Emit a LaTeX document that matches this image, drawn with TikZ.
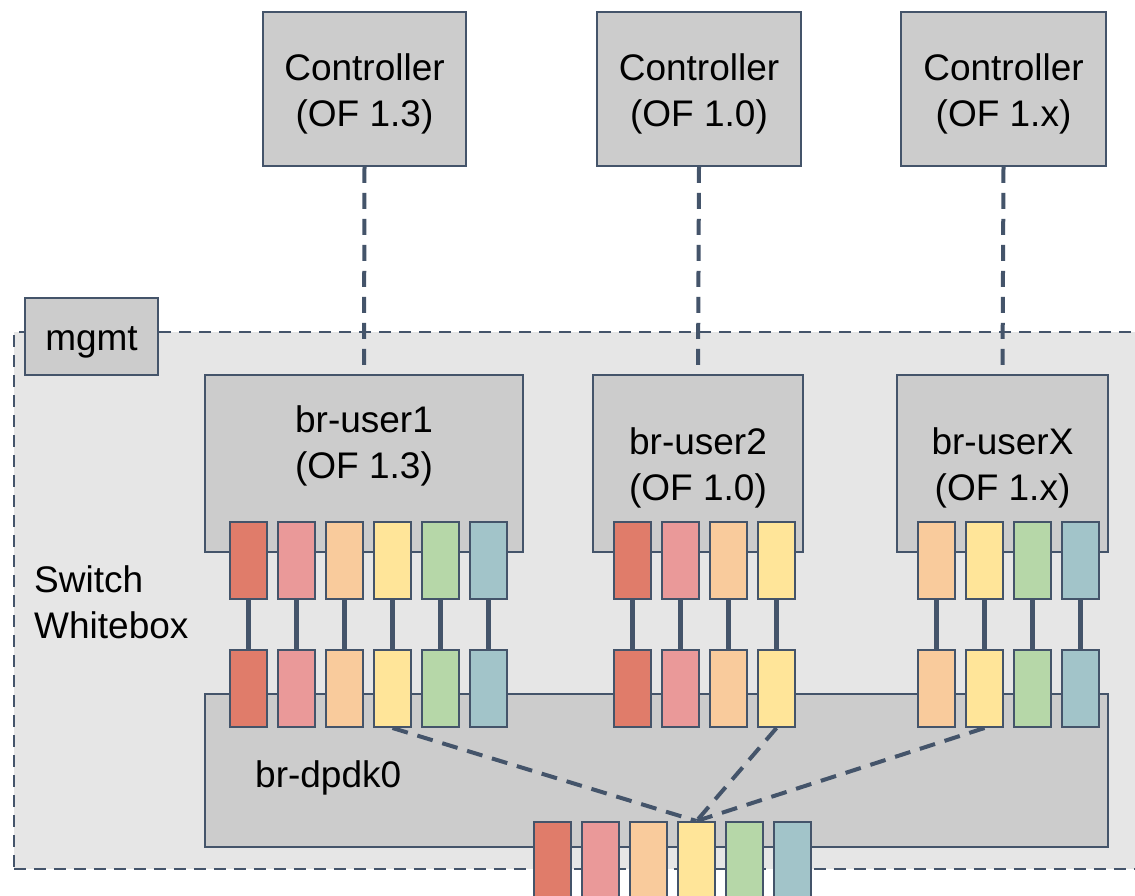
\documentclass[tikz,border=0pt]{standalone}
\usepackage{fontspec}
\setmainfont{Liberation Sans}
\definecolor{edge}{HTML}{44546A}
\definecolor{boxgray}{HTML}{CCCCCC}
\definecolor{mgmtbg}{HTML}{E6E6E6}
\definecolor{pred}{HTML}{E07C6A}
\definecolor{ppink}{HTML}{EA9999}
\definecolor{porange}{HTML}{F9CB9C}
\definecolor{pyellow}{HTML}{FFE599}
\definecolor{pgreen}{HTML}{B6D7A8}
\definecolor{pteal}{HTML}{A2C4C9}
\tikzset{
  txt/.style={font=\fontsize{37}{46}\selectfont, align=center, inner sep=0pt, text=black},
  graybox/.style={draw=edge, line width=1.6pt, fill=boxgray, inner sep=0pt},
  port/.style={draw=edge, line width=2pt, fill=#1, minimum width=37pt, minimum height=77pt, inner sep=0pt},
  plink/.style={draw=edge, line width=4.5pt},
  ctrlline/.style={draw=edge, line width=4pt, dash pattern=on 16pt off 10pt},
  fanline/.style={draw=edge, line width=4pt, dash pattern=on 16pt off 10pt},
}
\begin{document}
\begin{tikzpicture}[x=1pt,y=-1pt]
\clip (0,0) rectangle (1135,896);
\fill[white] (0,0) rectangle (1135,896);
% switch whitebox region
\node[draw=edge, line width=1.6pt, dash pattern=on 12pt off 8pt, fill=mgmtbg, minimum width=1140pt, minimum height=537pt, anchor=north west, inner sep=0pt] (sw) at (13,331) {};
\node[graybox, minimum width=133pt, minimum height=77pt] (mgmt) at (91.5,336.5) {};
\node[txt] (mgmtlabel) at ([yshift=-6pt]mgmt.center) {mgmt};
\node[txt, align=left, anchor=west] (swlabel) at (34,602) {Switch\\Whitebox};
% controllers
\node[graybox, minimum width=203pt, minimum height=154pt] (c1) at (364.5,89) {};
\node[graybox, minimum width=204pt, minimum height=154pt] (c2) at (699,89) {};
\node[graybox, minimum width=205pt, minimum height=154pt] (c3) at (1003.5,89) {};
\node[txt] (c1label) at ([yshift=-5pt]c1.center) {Controller\\(OF 1.3)};
\node[txt] (c2label) at ([yshift=-5pt]c2.center) {Controller\\(OF 1.0)};
\node[txt] (c3label) at ([yshift=-5pt]c3.center) {Controller\\(OF 1.x)};
% bridges
\node[graybox, minimum width=318pt, minimum height=177pt] (u1) at (364,463.5) {};
\node[txt] (u1label) at (364,446) {br-user1\\(OF 1.3)};
\node[graybox, minimum width=210pt, minimum height=177pt] (u2) at (698,463.5) {};
\node[txt] (u2label) at ([yshift=-4pt]u2.center) {br-user2\\(OF 1.0)};
\node[graybox, minimum width=211pt, minimum height=177pt] (ux) at (1002.5,463.5) {};
\node[txt] (uxlabel) at ([yshift=-4pt]ux.center) {br-userX\\(OF 1.x)};
\node[graybox, minimum width=903pt, minimum height=153pt] (dp) at (656.5,770.5) {};
\node[txt, anchor=west] (dplabel) at (255,778) {br-dpdk0};
% controller links
\draw[ctrlline] (c1.south) -- (u1.north);
\draw[ctrlline] (c2.south) -- (u2.north);
\draw[ctrlline] (c3.south) -- (ux.north);
% br-user1 ports
\foreach \i/\c [count=\k] in {248.5/pred,296.5/ppink,344.5/porange,392.5/pyellow,440.5/pgreen,488.5/pteal}{
  \node[port=\c] (a\k) at (\i,560.5) {};
  \node[port=\c] (b\k) at (\i,688.5) {};
  \draw[plink] (a\k.south) -- (b\k.north);
}
% br-user2 ports
\foreach \i/\c [count=\k] in {632.5/pred,680.5/ppink,728.5/porange,776.5/pyellow}{
  \node[port=\c] (e\k) at (\i,560.5) {};
  \node[port=\c] (f\k) at (\i,688.5) {};
  \draw[plink] (e\k.south) -- (f\k.north);
}
% br-userX ports
\foreach \i/\c [count=\k] in {936.5/porange,984.5/pyellow,1032.5/pgreen,1080.5/pteal}{
  \node[port=\c] (g\k) at (\i,560.5) {};
  \node[port=\c] (h\k) at (\i,688.5) {};
  \draw[plink] (g\k.south) -- (h\k.north);
}
% physical ports
\foreach \i/\c [count=\k] in {552.5/pred,600.5/ppink,648.5/porange,696.5/pyellow,744.5/pgreen,792.5/pteal}{
  \node[port=\c, anchor=north] (p\k) at (\i,821) {};
}
% fan-in dashed links
\draw[fanline] (b4.south) -- (p4.north);
\draw[fanline] (f4.south) -- (p4.north);
\draw[fanline] (h2.south) -- (p4.north);
\end{tikzpicture}
\end{document}
